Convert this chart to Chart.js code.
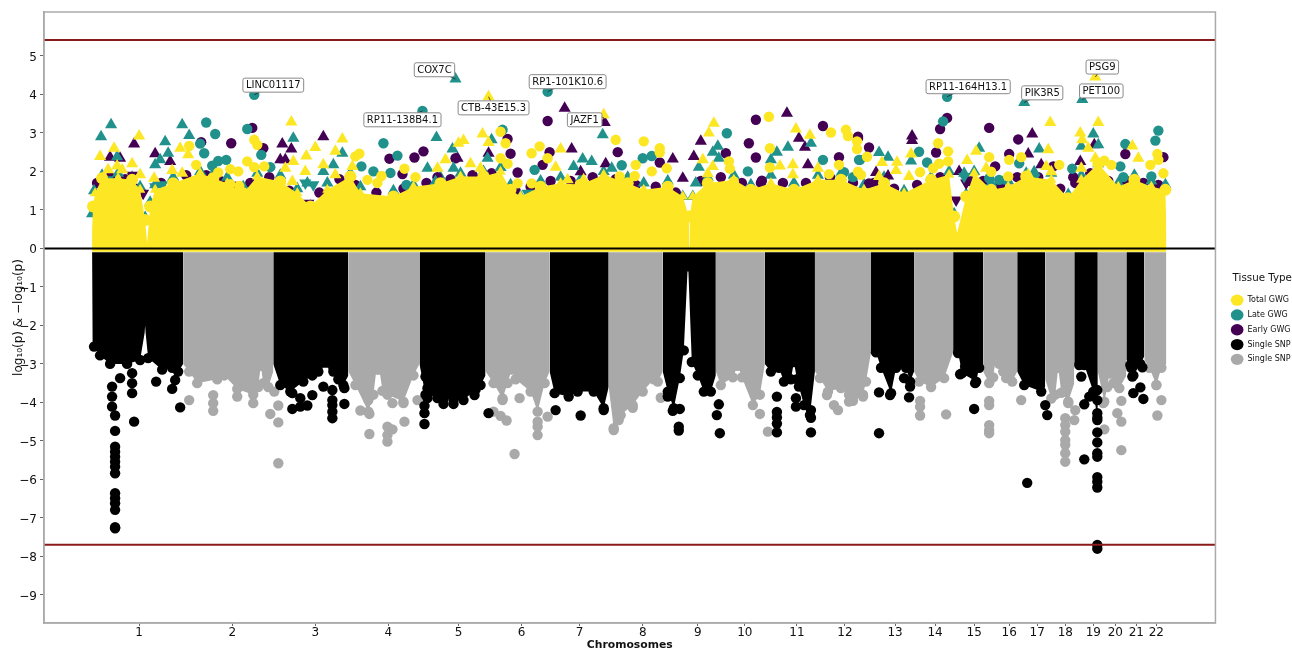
<!DOCTYPE html>
<html>
<head>
<meta charset="utf-8">
<title>Miami plot</title>
<script src="https://cdn.jsdelivr.net/npm/chart.js@4/dist/chart.umd.min.js"></script>
<style>
  html, body { margin: 0; padding: 0; background: #fff; }
  canvas { display: block; }
</style>
</head>
<body>
<canvas id="miami" width="1292" height="649"></canvas>
<script>
// x is cumulative genome position (arbitrary units along the axis), y is log10(p)
const chrLabels = ["1","2","3","4","5","6","7","8","9","10","11","12","13","14","15","16","17","18","19","20","21","22"];
const chrTicks = [95,188,271,344,414,477,535,598,653,700,752,800,850,890,929,964,992,1020,1048,1070,1091,1111];
const yTicks = [5,4,3,2,1,0,-1,-2,-3,-4,-5,-6,-7,-8,-9];
const upperLimit = 5.41;
const lowerLimit = -7.7;

const geneNames = ["LINC01117","COX7C","RP11-138B4.1","CTB-43E15.3","RP1-101K10.6","JAZF1","RP11-164H13.1","PIK3R5","PSG9","PET100"];
const geneLabelAt = [[229,4.24],[390,4.64],[358,3.34],[449,3.65],[523,4.33],[540,3.34],[923,4.2],[997,4.04],[1057,4.71],[1056,4.09]];
const geneHitAt = [[210,3.99],[411,4.4],[378,3.57],[444,3.94],[503,4.07],[559,3.4],[902,3.94],[979,3.79],[1050,4.45],[1037,3.87]];

// top edge of the packed yellow band
const totalEdge = [[48,-0.09],[48,0.5],[49,1.09],[51,1.43],[58,1.82],[74,1.82],[88,1.78],[96,1.52],[101,0.74],[103,0.14],[106,1.09],[111,1.52],[129,1.69],[156,1.95],[169,1.82],[183,1.69],[199,1.43],[213,1.87],[236,1.74],[253,1.43],[266,1.09],[283,1.52],[306,1.87],[316,1.43],[349,1.35],[369,1.6],[396,1.69],[416,1.87],[439,1.87],[456,1.99],[466,1.52],[476,1.35],[496,1.6],[516,1.69],[536,1.65],[559,1.91],[583,1.69],[599,1.52],[623,1.6],[638,1.35],[644,0.83],[644.5,0.05],[645,0.83],[648,1.35],[663,1.69],[689,1.78],[706,1.52],[726,1.69],[749,1.52],[773,1.78],[796,1.78],[819,1.52],[839,1.69],[859,1.43],[886,1.78],[904,1.91],[909,0.83],[912,0.4],[921,1.35],[929,1.95],[946,1.52],[963,1.6],[981,1.87],[1006,1.78],[1023,1.3],[1036,1.78],[1053,2.2],[1073,1.6],[1089,1.78],[1106,1.6],[1120,1.52],[1121,0.4],[1121,-0.09]];

const totalCircles = [[145,2.66],[152,2.17],[210,2.82],[213,2.69],[203,2.26],[210,2.11],[220,2.13],[174,1.97],[186,2.06],[194,2.0],[186,1.67],[195,1.62],[311,2.39],[315,2.46],[360,2.07],[371,1.85],[337,1.88],[323,1.78],[333,1.7],[456,3.03],[461,2.73],[571,2.82],[599,2.78],[615,2.6],[615,2.49],[495,2.65],[487,2.47],[503,2.34],[456,2.34],[463,2.2],[591,2.17],[622,2.08],[607,2.0],[575,1.87],[590,1.88],[473,1.69],[487,1.69],[724,3.42],[786,3.01],[801,3.08],[803,2.92],[812,2.78],[725,2.6],[684,2.26],[685,2.07],[725,2.1],[794,2.17],[784,1.93],[689,1.74],[711,1.48],[812,2.58],[822,2.38],[903,2.52],[903,2.26],[893,2.73],[888,2.08],[894,2.2],[944,2.37],[976,2.37],[964,2.3],[1014,2.17],[875,1.98],[816,1.91],[813,1.99],[963,1.87],[1113,2.3],[1112,2.45],[1105,2.17],[1118,1.95],[1066,2.17],[1059,2.28],[946,1.99]];
const totalTriangles = [[95,2.92],[56,2.39],[70,2.6],[247,3.28],[298,2.84],[271,2.62],[291,2.52],[262,2.4],[136,2.6],[144,2.43],[88,2.2],[73,2.14],[64,2.04],[78,2.04],[96,1.91],[110,1.82],[138,1.95],[128,2.02],[249,2.26],[279,2.17],[261,2.0],[241,2.08],[401,2.3],[393,2.08],[308,2.13],[291,1.91],[248,1.74],[414,2.73],[444,3.94],[559,3.47],[419,2.8],[438,2.97],[444,2.75],[516,2.58],[511,2.11],[669,3.25],[664,3.0],[751,3.1],[765,2.94],[658,2.3],[668,2.13],[748,2.17],[748,1.91],[735,2.14],[773,2.08],[663,1.94],[426,2.2],[436,2.08],[539,1.78],[523,1.78],[563,1.74],[1050,4.45],[1005,3.27],[1053,3.27],[1035,3.0],[1003,2.56],[1037,2.82],[1087,2.66],[1093,2.34],[866,2.45],[852,2.24],[837,2.23],[851,2.02],[931,2.52],[922,2.28],[1050,2.34],[1036,2.08],[1043,2.6],[864,1.87],[834,1.87],[1001,2.13],[941,2.08],[983,1.91],[1006,1.99]];

const lateCircles = [[210,3.99],[162,3.27],[171,2.97],[203,3.1],[156,2.72],[160,2.47],[168,2.15],[174,2.27],[182,2.3],[217,2.43],[378,3.57],[339,2.73],[353,2.41],[346,1.96],[329,2.0],[317,2.13],[362,1.65],[226,2.11],[503,4.07],[458,3.08],[682,2.99],[490,2.04],[577,2.16],[598,2.34],[607,2.4],[778,2.3],[703,2.0],[814,2.3],[799,1.98],[902,3.94],[898,3.3],[1113,3.06],[1110,2.8],[1080,2.71],[874,2.51],[882,2.23],[815,2.3],[808,1.85],[1027,2.07],[1075,2.13],[944,1.82],[974,2.21],[954,1.78],[1078,1.85],[1106,1.87]];
const lateTriangles = [[67,3.21],[57,2.9],[138,3.21],[145,2.93],[121,2.77],[249,2.86],[392,2.88],[411,4.4],[408,2.58],[124,2.47],[111,2.17],[73,2.38],[116,2.3],[298,2.47],[383,2.08],[409,2.08],[391,1.74],[263,1.7],[279,2.0],[289,2.17],[558,2.95],[447,2.82],[443,2.34],[538,2.32],[547,2.26],[567,2.08],[529,2.13],[766,2.73],[743,2.63],[732,2.5],[673,2.65],[668,2.5],[674,2.34],[654,2.11],[651,1.7],[726,2.3],[979,3.79],[1037,3.87],[1048,2.97],[1053,2.69],[1036,2.65],[994,2.58],[834,2.49],[843,2.37],[866,2.27],[934,2.6],[919,1.95],[989,1.99]];
const lateDown = [[111,1.6],[118,1.65],[64,1.78],[248,1.2],[261,1.7],[269,1.65],[423,1.26],[609,1.39],[623,1.39],[616,1.43],[483,1.43],[761,1.48],[588,1.35],[989,1.82],[1019,1.13],[919,1.87]];
// teal and purple markers crowded just over the yellow edge
const lateFringe = [[48,0.9],[50,1.5],[58,1.9],[74,1.95],[88,1.85],[96,1.6],[101,0.8],[106,1.2],[111,1.65],[129,1.85],[156,2.0],[169,1.95],[183,1.85],[199,1.6],[213,1.95],[236,1.9],[253,1.55],[266,1.1],[283,1.7],[306,1.95],[316,1.6],[349,1.5],[369,1.65],[396,1.85],[416,1.95],[439,2.0],[456,2.1],[466,1.65],[476,1.35],[496,1.75],[516,1.85],[536,1.8],[559,2.0],[583,1.85],[599,1.7],[623,1.75],[638,1.35],[648,1.35],[663,1.85],[689,1.9],[706,1.65],[726,1.9],[749,1.7],[773,1.9],[796,1.95],[819,1.65],[839,1.85],[859,1.5],[886,1.85],[904,2.0],[909,0.9],[921,1.4],[929,2.0],[946,1.7],[963,1.75],[981,1.95],[1006,1.95],[1023,1.4],[1036,1.9],[1053,2.2],[1073,1.7],[1089,1.9],[1106,1.75],[1120,1.65]];
const earlyCircles = [[208,3.13],[157,2.76],[187,2.73],[219,2.6],[345,2.33],[370,2.36],[379,2.52],[358,1.93],[393,1.85],[411,2.34],[503,3.31],[711,3.34],[778,3.18],[813,2.9],[704,2.73],[711,2.36],[573,2.5],[505,2.5],[498,2.17],[615,2.23],[794,2.37],[466,2.46],[463,2.84],[473,1.97],[717,1.76],[681,2.47],[902,3.39],[895,3.1],[944,3.13],[973,2.83],[824,2.62],[891,2.49],[964,2.45],[1080,2.45],[1118,2.37],[1028,1.85],[950,2.13],[1008,2.13],[813,2.86],[824,1.69]];
const earlyTriangles = [[90,2.71],[111,2.46],[279,2.9],[238,2.71],[247,2.58],[236,2.3],[241,2.3],[66,2.37],[76,2.34],[126,2.26],[520,3.64],[742,3.51],[560,3.27],[527,2.58],[628,2.32],[649,2.39],[656,2.78],[754,2.86],[760,2.63],[561,2.2],[763,2.17],[536,1.99],[638,1.82],[413,2.34],[444,2.47],[867,2.92],[867,2.8],[987,2.97],[983,2.45],[1049,2.69],[1035,2.26],[996,2.17],[831,1.97],[843,1.88],[914,2.0]];
const earlyDown = [[264,1.17],[921,1.7],[911,1.26],[88,1.9],[99,1.43]];
const earlyFringe = [[53,1.7],[66,1.85],[81,1.8],[92,1.55],[117,1.7],[142,1.9],[162,1.9],[176,1.75],[191,1.6],[206,1.7],[225,1.85],[245,1.5],[275,1.45],[295,1.8],[311,1.65],[332,1.45],[359,1.55],[382,1.7],[406,1.8],[428,1.9],[447,1.95],[471,1.5],[486,1.6],[506,1.75],[526,1.75],[548,1.85],[571,1.8],[591,1.65],[611,1.6],[631,1.45],[656,1.75],[676,1.85],[697,1.7],[716,1.7],[738,1.7],[761,1.7],[785,1.85],[808,1.7],[829,1.7],[849,1.55],[872,1.65],[895,1.85],[925,1.75],[938,1.75],[955,1.65],[972,1.85],[993,1.85],[1015,1.55],[1030,1.7],[1045,1.95],[1063,1.75],[1081,1.75],[1098,1.7],[1113,1.65]];

// lower edge of each chromosome block, read per chromosome; first two and last two points are the side walls
const blackEdges = [
  [[48,-0.1],[48.5,-2.4],[50,-2.55],[56,-2.78],[66,-3.0],[83,-3.0],[96,-2.9],[100.5,-2.2],[101,-2.0],[101.5,-2.2],[104,-2.85],[118,-3.15],[128,-3.1],[134,-3.2],[139,-3.0],[139,-0.1]],
  [[229,-0.1],[229,-3.0],[236,-3.55],[246,-3.72],[259,-3.46],[268,-3.3],[273,-3.1],[289,-3.1],[294,-3.4],[299,-3.55],[304,-3.3],[304,-0.1]],
  [[375,-0.1],[375,-3.0],[381,-3.8],[399,-3.9],[409,-3.94],[419,-3.94],[431,-3.67],[436,-3.55],[441,-3.3],[441,-0.1]],
  [[505,-0.1],[505,-3.2],[510,-3.76],[524,-3.85],[533,-3.72],[549,-3.72],[559,-4.15],[564,-3.6],[564,-0.1]],
  [[618,-0.1],[618,-3.2],[623,-3.72],[629,-4.15],[635,-3.37],[639,-2.65],[642.7,-0.6],[643.6,-0.6],[647,-2.95],[653,-3.3],[659,-3.72],[666,-3.72],[671,-3.3],[671,-0.1]],
  [[720,-0.1],[720,-3.0],[726,-3.2],[734,-3.1],[739,-3.46],[746,-3.4],[749,-2.95],[752,-3.4],[759,-4.07],[765,-4.33],[770,-3.2],[770,-0.1]],
  [[826,-0.1],[826,-2.7],[831,-2.7],[836,-3.1],[846,-3.76],[851,-3.1],[861,-3.1],[865,-3.46],[869,-3.2],[869,-0.1]],
  [[908,-0.1],[908,-2.7],[913,-2.72],[917,-3.24],[931,-3.46],[934,-3.1],[938,-3.0],[938,-0.1]],
  [[972,-0.1],[972,-3.2],[979,-3.55],[996,-3.72],[1000,-3.6],[1000,-0.1]],
  [[1029,-0.1],[1029,-3.0],[1034,-3.03],[1039,-3.03],[1048,-3.72],[1052,-4.4],[1052.5,-3.6],[1052.5,-0.1]],
  [[1081,-0.1],[1081,-2.9],[1085,-3.03],[1088,-3.3],[1095,-3.0],[1099,-2.8],[1099,-0.1]]
];
const greyEdges = [
  [[139,-0.1],[139,-3.0],[145,-3.2],[153,-3.5],[173,-3.4],[180,-3.3],[193,-3.65],[209,-3.8],[214,-3.6],[216.5,-3.05],[219,-3.5],[224,-3.6],[229,-3.2],[229,-0.1]],
  [[304,-0.1],[304,-3.2],[311,-3.55],[324,-4.24],[329,-3.8],[332,-3.15],[335,-3.15],[338,-3.7],[343,-3.8],[359,-3.98],[369,-3.3],[375,-3.0],[375,-0.1]],
  [[441,-0.1],[441,-3.2],[449,-3.5],[458,-3.9],[463,-3.5],[467,-3.15],[471,-3.4],[486,-3.72],[493,-4.24],[500,-3.5],[505,-3.2],[505,-0.1]],
  [[564,-0.1],[564,-3.6],[569,-4.67],[576,-4.33],[588,-4.07],[598,-3.72],[609,-3.4],[613,-3.46],[618,-3.2],[618,-0.1]],
  [[671,-0.1],[671,-3.2],[676,-3.55],[688,-3.35],[693,-3.05],[697,-3.35],[708,-4.07],[715,-3.8],[720,-3.0],[720,-0.1]],
  [[770,-0.1],[770,-3.2],[775,-3.37],[783,-3.72],[796,-3.63],[804,-3.8],[808,-3.85],[818,-3.8],[821,-3.46],[826,-2.7],[826,-0.1]],
  [[869,-0.1],[869,-3.2],[874,-3.46],[886,-3.6],[899,-3.37],[908,-2.7],[908,-0.1]],
  [[938,-0.1],[938,-3.2],[944,-3.5],[948,-3.35],[951,-2.78],[954,-3.0],[958,-3.2],[961,-3.37],[967,-3.46],[972,-3.2],[972,-0.1]],
  [[1000,-0.1],[1000,-3.4],[1006,-3.9],[1010,-3.8],[1013,-3.1],[1016,-3.75],[1023,-3.98],[1029,-3.5],[1029,-0.1]],
  [[1052.5,-0.1],[1052.5,-3.2],[1059,-3.98],[1062,-3.6],[1064,-3.25],[1068,-3.5],[1074,-3.63],[1081,-3.3],[1081,-0.1]],
  [[1099,-0.1],[1099,-2.9],[1104,-3.1],[1111,-3.55],[1116,-3.1],[1121,-3.0],[1121,-0.1]]
];

const blackDots = [[71,-4.34],[71,-4.74],[71,-5.15],[71,-5.28],[71,-5.41],[71,-5.54],[71,-5.67],[71,-5.84],[71,-6.36],[71,-6.49],[71,-6.62],[71,-6.79],[71,-7.24],[71,-7.27],[68,-4.11],[68,-3.85],[68,-3.59],[76,-3.37],[88,-3.24],[88,-3.5],[88,-3.76],[90,-4.5],[112,-3.46],[128,-3.65],[136,-4.13],[131,-3.42],[248,-4.17],[256,-3.89],[263,-4.08],[256,-4.11],[268,-3.81],[248,-3.76],[288,-4.41],[288,-4.24],[288,-4.07],[288,-3.94],[288,-3.68],[279,-3.59],[300,-4.04],[300,-3.63],[274,-3.2],[289,-3.2],[380,-4.56],[380,-4.28],[380,-4.09],[383,-3.63],[383,-3.89],[393,-3.89],[399,-4.04],[409,-4.04],[381,-3.33],[444,-4.28],[430,-3.81],[511,-4.2],[536,-4.34],[559,-4.2],[628,-4.22],[635,-4.17],[634,-4.63],[634,-4.73],[623,-3.85],[674,-4.05],[672,-4.33],[675,-4.8],[732,-4.25],[732,-4.39],[732,-4.55],[732,-4.78],[751,-3.89],[751,-4.11],[766,-4.2],[766,-4.4],[766,-4.78],[732,-3.85],[754,-3.59],[834,-4.8],[834,-3.74],[845,-3.81],[864,-3.87],[865,-3.59],[859,-3.37],[915,-3.27],[920,-3.07],[929,-4.17],[930,-3.5],[982,-6.09],[1000,-4.07],[1002,-4.33],[1036,-3.33],[1039,-4.05],[1044,-3.85],[1052,-4.28],[1052,-4.46],[1052,-4.78],[1052,-5.04],[1052,-5.32],[1052,-5.41],[1039,-5.48],[1052,-5.94],[1052,-6.06],[1052,-6.21],[1052,-3.94],[1052,-3.68],[1052,-7.7],[1052,-7.8],[1088,-3.76],[1095,-3.61],[1098,-3.91],[1087,-3.33],[1086,-3.11],[1097,-3.09]];
const greyDots = [[145,-3.94],[169,-3.81],[169,-4.02],[169,-4.22],[193,-3.85],[209,-4.02],[230,-3.72],[234,-4.08],[226,-4.3],[234,-4.52],[234,-5.58],[316,-4.21],[325,-4.3],[324,-3.94],[325,-4.82],[343,-4.63],[348,-4.7],[343,-4.85],[343,-5.02],[360,-4.5],[373,-3.94],[359,-4.02],[348,-4.02],[475,-3.89],[458,-3.94],[449,-4.24],[456,-4.35],[462,-4.47],[493,-4.5],[493,-4.63],[493,-4.85],[503,-4.37],[470,-5.34],[569,-4.72],[574,-4.46],[588,-4.14],[616,-3.88],[715,-4.3],[723,-4.76],[789,-4.07],[793,-4.2],[804,-3.98],[782,-3.81],[808,-3.96],[818,-3.85],[875,-3.96],[875,-4.11],[875,-4.34],[901,-4.31],[944,-3.96],[944,-4.07],[944,-4.59],[944,-4.72],[944,-4.8],[976,-3.94],[1020,-4.41],[1020,-4.59],[1020,-4.76],[1020,-4.98],[1020,-5.1],[1020,-5.32],[1020,-5.54],[1029,-4.46],[1030,-4.2],[1023,-4.02],[1059,-4.7],[1072,-4.28],[1076,-4.5],[1076,-5.24],[1076,-3.96],[1058,-4.02],[1116,-3.94],[1112,-4.34],[1111,-3.55]];

const xMin = 0, xMax = 1170, yMin = -9.73, yMax = 6.14;
const YELLOW = "#fde725", TEAL = "#21918c", PURPLE = "#440154", BLACK = "#000000", GREY = "#a9a9a9";

function dots(data, color, style, order, rotation) {
  return {
    data, order,
    showLine: false,
    backgroundColor: color,
    borderWidth: 0,
    pointBorderWidth: 0,
    pointStyle: style,
    pointRadius: style === "triangle" ? 7 : 5.2,
    pointRotation: rotation || 0
  };
}

function block(edge, color, order) {
  return {
    data: edge, order,
    showLine: true,
    borderWidth: 0,
    borderColor: color,
    backgroundColor: color,
    fill: { value: -0.1 },
    tension: 0,
    pointBorderWidth: 0,
    pointBackgroundColor: color,
    pointStyle: "circle",
    // only the scalloped bottom gets markers, not the side walls
    pointRadius: (c) => {
      const n = c.dataset.data.length;
      if (c.dataIndex < 2 || c.dataIndex > n - 3) return 0;
      return c.raw[1] < -2.3 ? 5.2 : 0;
    }
  };
}

function hline(y, color, order) {
  return { data: [[xMin, y], [xMax, y]], order, showLine: true, borderColor: color, borderWidth: 2, pointRadius: 0 };
}

const datasets = [
  ...blackEdges.map((e) => block(e, BLACK, 60)),
  ...greyEdges.map((e) => block(e, GREY, 61)),
  dots(blackDots, BLACK, "circle", 59),
  dots(greyDots, GREY, "circle", 60),
  dots(earlyFringe, PURPLE, "circle", 45),
  dots(lateFringe, TEAL, "triangle", 44),
  dots(earlyCircles, PURPLE, "circle", 40),
  dots(earlyTriangles, PURPLE, "triangle", 40),
  dots(earlyDown, PURPLE, "triangle", 40, 180),
  dots(lateCircles, TEAL, "circle", 30),
  dots(lateTriangles, TEAL, "triangle", 30),
  dots(lateDown, TEAL, "triangle", 30, 180),
  dots(totalCircles, YELLOW, "circle", 20),
  dots(totalTriangles, YELLOW, "triangle", 20),
  {
    data: totalEdge, order: 19,
    showLine: true,
    borderWidth: 0,
    borderColor: YELLOW,
    backgroundColor: YELLOW,
    fill: { value: -0.09 },
    tension: 0,
    pointBorderWidth: 0,
    pointBackgroundColor: YELLOW,
    pointStyle: (c) => (c.dataIndex % 2 ? "triangle" : "circle"),
    pointRadius: (c) => (c.raw[1] > 0.6 ? 6 : 0)
  },
  hline(upperLimit, "#8b1a1a", 3),
  hline(lowerLimit, "#8b1a1a", 3),
  hline(0, "#000000", 2)
];

// box around the axes and the gene call-outs
const framePlugin = {
  id: "frame",
  afterLayout(chart) {
    // park the legend in the right margin
    const l = chart.legend;
    const w = l.right - l.left;
    l.left = 1224;
    l.right = 1224 + w;
    l.top = 269;
  },
  afterDraw(chart) {
    const { ctx, chartArea: a, scales } = chart;
    ctx.save();
    ctx.strokeStyle = "#aaaaaa";
    ctx.lineWidth = 1.5;
    ctx.strokeRect(a.left, a.top, a.right - a.left, a.bottom - a.top);
    ctx.font = "10px 'DejaVu Sans'";
    ctx.textAlign = "center";
    ctx.textBaseline = "middle";
    geneNames.forEach((name, i) => {
      const cx = scales.x.getPixelForValue(geneLabelAt[i][0]);
      const cy = scales.y.getPixelForValue(geneLabelAt[i][1]);
      const hx = scales.x.getPixelForValue(geneHitAt[i][0]);
      const hy = scales.y.getPixelForValue(geneHitAt[i][1]);
      const w = ctx.measureText(name).width + 6;
      ctx.strokeStyle = "#222";
      ctx.lineWidth = 0.8;
      ctx.beginPath();
      ctx.moveTo(cx, cy);
      ctx.lineTo(hx, hy);
      ctx.stroke();
      ctx.beginPath();
      ctx.roundRect(cx - w / 2, cy - 7, w, 14, 2);
      ctx.fillStyle = "#fff";
      ctx.fill();
      ctx.strokeStyle = "#8a8a8a";
      ctx.lineWidth = 1;
      ctx.stroke();
      ctx.fillStyle = "#111";
      ctx.fillText(name, cx, cy + 0.5);
    });
    ctx.restore();
  }
};

const legendItems = [
  ["Total GWG", YELLOW], ["Late GWG", TEAL], ["Early GWG", PURPLE], ["Single SNP", BLACK], ["Single SNP", GREY]
];

Chart.defaults.font.family = "'DejaVu Sans', sans-serif";
Chart.defaults.color = "#111";

new Chart(document.getElementById("miami"), {
  type: "scatter",
  data: { datasets },
  plugins: [framePlugin],
  options: {
    responsive: false,
    animation: false,
    events: [],
    layout: { padding: { top: 12, left: 0, right: 0, bottom: 0 } },
    scales: {
      x: {
        type: "linear",
        min: xMin,
        max: xMax,
        afterBuildTicks: (s) => { s.ticks = chrTicks.map((v) => ({ value: v })); },
        afterFit: (s) => { s.height = 26; },
        ticks: {
          autoSkip: false,
          maxRotation: 0,
          padding: 0,
          font: { size: 12 },
          callback: (v) => chrLabels[chrTicks.indexOf(v)]
        },
        grid: { drawOnChartArea: false, tickLength: 3, color: "#666" },
        border: { color: "#aaaaaa", width: 1.5 },
        title: { display: true, text: "Chromosomes", font: { size: 10.8, weight: "bold" }, padding: { top: 0, bottom: -3 } }
      },
      y: {
        type: "linear",
        min: yMin,
        max: yMax,
        afterBuildTicks: (s) => { s.ticks = yTicks.map((v) => ({ value: v })); },
        afterFit: (s) => { s.width = 44; },
        ticks: { padding: 3, labelOffset: 1.5, font: { size: 12 }, callback: (v) => (v < 0 ? "\u2212" + Math.abs(v) : String(v)) },
        grid: { drawOnChartArea: false, tickLength: 4, color: "#666" },
        border: { color: "#aaaaaa", width: 1.5 },
        title: { display: true, text: "log\u2081\u2080(p) & \u2212log\u2081\u2080(p)", font: { size: 12 }, padding: { top: 12, bottom: 0 } }
      }
    },
    plugins: {
      tooltip: { enabled: false },
      legend: {
        position: "right",
        align: "start",
        title: { display: true, text: "Tissue Type", font: { size: 10.3 }, padding: 4, position: "center" },
        labels: {
          usePointStyle: true,
          pointStyleWidth: 12.7,
          font: { size: 8 },
          padding: 6.8,
          boxHeight: 9,
          generateLabels: () => legendItems.map(([text, color]) => ({
            text, fillStyle: color, strokeStyle: color, lineWidth: 0, pointStyle: "circle"
          }))
        }
      }
    }
  }
});
</script>
</body>
</html>
